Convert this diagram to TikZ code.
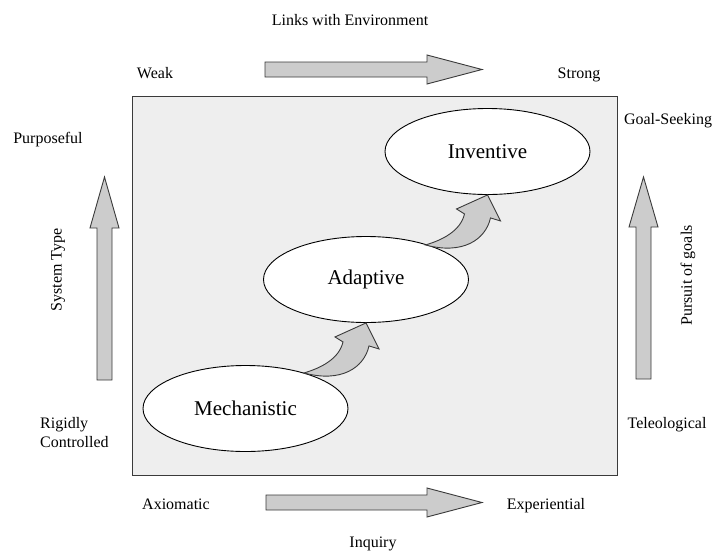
\documentclass[tikz,border=0pt]{standalone}
\usepackage{fontspec}
\setmainfont{Liberation Serif}
\usetikzlibrary{shapes.geometric}

\definecolor{panelgray}{HTML}{EEEEEE}
\definecolor{arrowgray}{HTML}{CCCCCC}
\definecolor{edgegray}{HTML}{3A3A3A}

\tikzset{
  lbl/.style={font=\fontsize{16}{19}\selectfont, inner sep=0pt, anchor=base},
  stage/.style={ellipse, draw=black, line width=0.9pt, fill=white,
    minimum width=205pt, minimum height=86pt, inner sep=0pt,
    font=\fontsize{21}{25}\selectfont},
  blockarrow/.style={draw=edgegray, fill=arrowgray, line width=0.9pt, line join=miter},
}

\begin{document}
\begin{tikzpicture}[x=1pt, y=-1pt]
\useasboundingbox (0,0) rectangle (718,552);

% central panel
\draw[draw=edgegray, fill=panelgray, line width=0.9pt] (132,96) rectangle (617,475);

% straight block arrows on the four sides
\draw[blockarrow] (265,62) -- (427,62) -- (427,55) -- (482,69.5) -- (427,84) -- (427,77) -- (265,77) -- cycle;
\draw[blockarrow] (266,495) -- (427,495) -- (427,488) -- (482,502.5) -- (427,517) -- (427,510) -- (266,510) -- cycle;
\draw[blockarrow] (97,380) -- (97,228) -- (90,228) -- (104.5,177) -- (119,228) -- (112,228) -- (112,380) -- cycle;
\draw[blockarrow] (636,379) -- (636,227) -- (629,227) -- (643.5,177) -- (658,227) -- (651,227) -- (651,379) -- cycle;

% axis labels
\node[lbl] (links) at (350,25) {Links with Environment};
\node[lbl] (weak) at (155,78) {Weak};
\node[lbl] (strong) at (579,78) {Strong};
\node[lbl] (purposeful) at (48,143) {Purposeful};
\node[lbl] (goalseek) at (668,124) {Goal-Seeking};
\node[lbl, anchor=base west] (rigidly) at (40,428) {Rigidly};
\node[lbl, anchor=base west] (controlled) at (40,447) {Controlled};
\node[lbl] (teleo) at (667,428) {Teleological};
\node[lbl] (axiom) at (176,509) {Axiomatic};
\node[lbl] (exper) at (546,509) {Experiential};
\node[lbl] (inquiry) at (373,547) {Inquiry};
\node[lbl, anchor=center, rotate=90] (systype) at (58,270) {System Type};
\node[lbl, anchor=center, rotate=90] (pursuit) at (688,275.5) {Pursuit of goals};

% system stages
\node[stage] (mech) at (245.5,408.5) {Mechanistic};
\node[stage] (adapt) at (366,279.5) {Adaptive};
\node[stage] (invent) at (487.5,151.5) {Inventive};

% curved arrows from one stage up to the next
\foreach \tip in {adapt, invent}{
  \begin{scope}[shift={(\tip.south)}]
    \draw[blockarrow]
      (-62,50) .. controls (-45,45) and (-27,36) .. (-23,19)
      -- (-31,14) -- (0,0) -- (13,26) -- (3,23)
      .. controls (-2,45) and (-25,60) .. (-62,50) -- cycle;
  \end{scope}
}
\end{tikzpicture}
\end{document}
